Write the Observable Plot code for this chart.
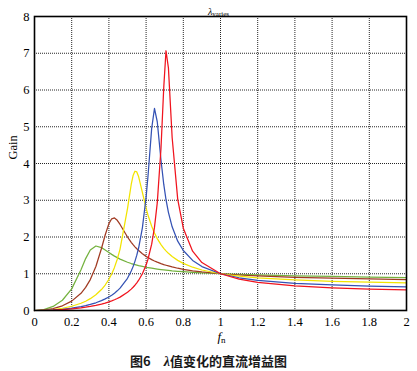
<!DOCTYPE html>
<html>
<head>
<meta charset="utf-8">
<script src="https://cdn.jsdelivr.net/npm/d3@7"></script>
<script src="https://cdn.jsdelivr.net/npm/@observablehq/plot@0.6"></script>
<style>
  html, body { margin: 0; padding: 0; background: #fff; }
  #chart svg { display: block; }
  #caption { width: 417px; height: 21px; line-height: 22px; text-align: center;
    font-family: "Noto Sans CJK SC", sans-serif; font-weight: bold; font-size: 13px; color: #1a1a1a; }
  #caption .lam { font-family: "Liberation Serif", serif; font-style: italic; font-weight: bold; font-size: 14px; }
</style>
</head>
<body>
<div id="chart"></div>
<div id="caption">图6　<span class="lam">λ</span>值变化的直流增益图</div>
<script>
// normalized frequency fn
const fn = [0, 0.05, 0.1, 0.15, 0.2, 0.25, 0.275, 0.3, 0.33, 0.36, 0.38, 0.4, 0.415, 0.43, 0.445, 0.46, 0.5, 0.52, 0.53, 0.54, 0.55, 0.56, 0.58, 0.6, 0.61, 0.63, 0.645, 0.66, 0.68, 0.695, 0.707, 0.72, 0.74, 0.77, 0.8, 0.85, 0.9, 1.0, 1.1, 1.2, 1.4, 1.6, 1.8, 2.0];
// gain curves
const gainGreen = [0, 0.026, 0.110, 0.279, 0.589, 1.109, 1.412, 1.648, 1.755, 1.711, 1.647, 1.577, 1.527, 1.480, 1.438, 1.399, 1.313, 1.278, 1.263, 1.248, 1.234, 1.221, 1.198, 1.177, 1.168, 1.150, 1.138, 1.127, 1.114, 1.105, 1.098, 1.091, 1.080, 1.067, 1.055, 1.038, 1.023, 1.000, 0.982, 0.968, 0.945, 0.927, 0.911, 0.896];
const gainBrown = [0, 0.013, 0.053, 0.128, 0.255, 0.468, 0.628, 0.841, 1.198, 1.686, 2.054, 2.364, 2.495, 2.518, 2.454, 2.341, 2.000, 1.855, 1.791, 1.733, 1.679, 1.630, 1.545, 1.473, 1.441, 1.385, 1.348, 1.315, 1.276, 1.250, 1.231, 1.212, 1.185, 1.150, 1.121, 1.080, 1.048, 1.000, 0.966, 0.940, 0.904, 0.878, 0.858, 0.841];
const gainYellow = [0, 0.006, 0.026, 0.061, 0.116, 0.198, 0.253, 0.322, 0.428, 0.570, 0.693, 0.849, 0.995, 1.173, 1.394, 1.671, 2.774, 3.429, 3.671, 3.789, 3.770, 3.637, 3.213, 2.784, 2.599, 2.291, 2.108, 1.956, 1.793, 1.692, 1.623, 1.556, 1.469, 1.364, 1.282, 1.178, 1.102, 1.000, 0.935, 0.889, 0.831, 0.794, 0.769, 0.750];
const gainBlue = [0, 0.004, 0.015, 0.034, 0.063, 0.105, 0.132, 0.164, 0.210, 0.268, 0.315, 0.369, 0.417, 0.472, 0.535, 0.608, 0.877, 1.073, 1.194, 1.337, 1.505, 1.707, 2.250, 3.082, 3.647, 4.956, 5.497, 5.136, 4.094, 3.430, 3.018, 2.671, 2.277, 1.886, 1.632, 1.362, 1.195, 1.000, 0.891, 0.822, 0.741, 0.695, 0.665, 0.643];
const gainRed = [0, 0.003, 0.010, 0.024, 0.043, 0.071, 0.089, 0.110, 0.139, 0.174, 0.202, 0.234, 0.261, 0.292, 0.326, 0.364, 0.495, 0.581, 0.632, 0.688, 0.752, 0.824, 1.001, 1.240, 1.394, 1.806, 2.260, 2.927, 4.409, 6.078, 7.068, 6.602, 4.706, 3.023, 2.239, 1.615, 1.305, 1.000, 0.852, 0.765, 0.668, 0.617, 0.585, 0.563];

const seriesNames = ["green", "brown", "yellow", "blue", "red"];
const seriesGains = [gainGreen, gainBrown, gainYellow, gainBlue, gainRed];

const xTicks = [0, 0.2, 0.4, 0.6, 0.8, 1, 1.2, 1.4, 1.6, 1.8, 2];
const yTicks = [0, 1, 2, 3, 4, 5, 6, 7, 8];

// styles
const colors = {green: "#74b23e", brown: "#a03a22", yellow: "#f2e400", blue: "#3452b4", red: "#f0141e"};

const lines = seriesNames.map((name, i) =>
  Plot.line(fn.map((f, j) => ({fn: f, gain: seriesGains[i][j]})),
    {x: "fn", y: "gain", stroke: colors[name], strokeWidth: 1.25, curve: "linear"})
);

const chart = Plot.plot({
  width: 417,
  height: 350,
  marginLeft: 34,
  marginRight: 11,
  marginTop: 16,
  marginBottom: 40,
  x: {domain: [0, 2]},
  y: {domain: [0, 8]},
  style: {fontFamily: "'Liberation Serif', serif", fontSize: "12.5px", background: "white", color: "black"},
  marks: [
    Plot.gridX(xTicks, {stroke: "#000", strokeOpacity: 0.85, strokeDasharray: "1,1", strokeWidth: 1}),
    Plot.gridY(yTicks, {stroke: "#000", strokeOpacity: 0.85, strokeDasharray: "1,1", strokeWidth: 1}),
    ...lines,
    Plot.frame({stroke: "#000", strokeWidth: 1.6}),
    Plot.axisX(xTicks, {tickSize: 0, tickPadding: 7, label: null, tickFormat: d => String(+d.toFixed(1))}),
    Plot.axisY(yTicks, {tickSize: 0, tickPadding: 5, label: null}),
    Plot.text(["fn"], {frameAnchor: "bottom", dy: 30, dx: 1, fontSize: 13, fill: "#000"}),
    Plot.text(["Gain"], {frameAnchor: "left", dx: -22, dy: -4, rotate: -90, fontSize: 12.5, fill: "#000"}),
    Plot.text(["λvaries"], {frameAnchor: "top", dy: -9, dx: -2, fontSize: 10, fill: "#000"})
  ]
});

document.getElementById("chart").appendChild(chart);

// subscripts
const svg = d3.select(chart);
svg.selectAll("text").filter(function() { return this.textContent === "fn"; }).each(function() {
  const t = d3.select(this);
  t.text(null);
  t.append("tspan").attr("font-style", "italic").attr("fill", "#000").text("f");
  t.append("tspan").attr("font-size", "9px").attr("dy", "0.3em").attr("fill", "#000").text("n");
});
svg.selectAll("text").filter(function() { return this.textContent === "λvaries"; }).each(function() {
  const t = d3.select(this);
  t.text(null);
  t.append("tspan").attr("font-style", "italic").attr("font-size", "10px").attr("fill", "#000").text("λ");
  t.append("tspan").attr("font-size", "7px").attr("dy", "0.25em").attr("fill", "#000").text("varies");
});
</script>
</body>
</html>
